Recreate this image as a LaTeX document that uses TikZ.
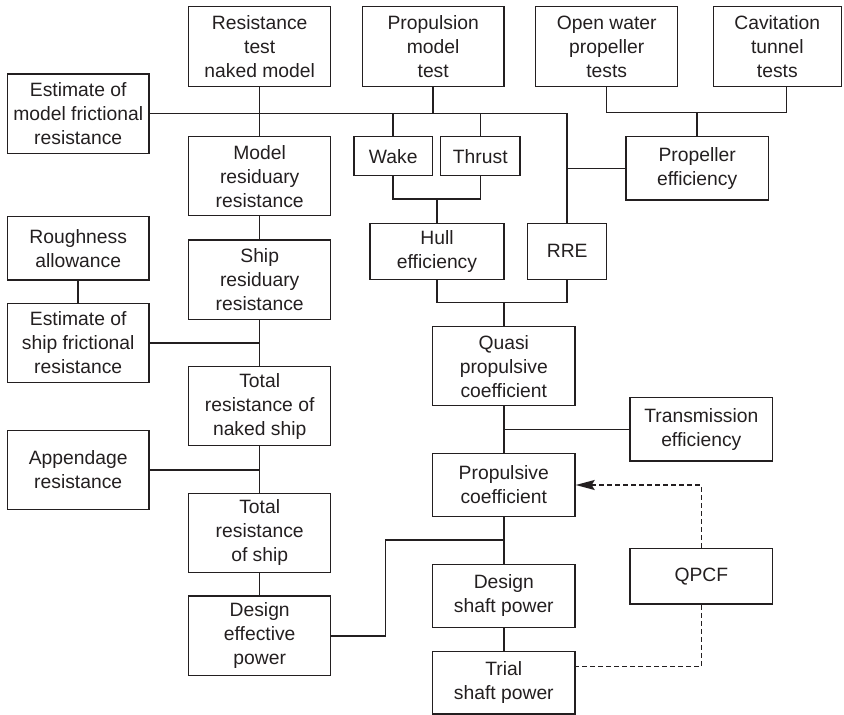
\documentclass[tikz,border=0pt]{standalone}
\usepackage{fontspec}
\setmainfont{Liberation Sans}
\usetikzlibrary{arrows.meta,calc}
\definecolor{ink}{HTML}{231F20}
\begin{document}
\begin{tikzpicture}[x=1pt,y=-1pt,
  box/.style={draw=ink, text=ink, line width=1.5pt, align=center, inner sep=0pt,
    font=\fontsize{19.3}{24}\selectfont},
  conn/.style={draw=ink, line width=1.5pt},
  dconn/.style={draw=ink, line width=1.5pt, dash pattern=on 5pt off 3pt}]
\useasboundingbox (0,0) rectangle (844,715);
% boxes
\node[box, minimum width=142pt, minimum height=80pt] (rt) at (259.7,46.7) {Resistance\\test\\naked model};
\node[box, minimum width=141.7pt, minimum height=80pt] (pm) at (433.2,46.7) {Propulsion\\model\\test};
\node[box, minimum width=142pt, minimum height=80pt] (ow) at (606.7,46.7) {Open water\\propeller\\tests};
\node[box, minimum width=128pt, minimum height=80pt] (ct) at (777.3,46.7) {Cavitation\\tunnel\\tests};
\node[box, minimum width=141.7pt, minimum height=79.3pt] (mf) at (78.2,113.7) {Estimate of\\model frictional\\resistance};
\node[box, minimum width=142pt, minimum height=79pt] (mr) at (259.7,176.2) {Model\\residuary\\resistance};
\node[box, minimum width=78.3pt, minimum height=39pt] (wk) at (393.2,156.2) {Wake};
\node[box, minimum width=79.3pt, minimum height=39pt] (th) at (480.3,156.2) {Thrust};
\node[box, minimum width=142.3pt, minimum height=63.3pt] (pe) at (697.2,168.3) {Propeller\\efficiency};
\node[box, minimum width=141.7pt, minimum height=63.3pt] (ra) at (78.2,248.3) {Roughness\\allowance};
\node[box, minimum width=142pt, minimum height=79.3pt] (sr) at (259.7,279.7) {Ship\\residuary\\resistance};
\node[box, minimum width=134pt, minimum height=56pt] (he) at (437,251.3) {Hull\\efficiency};
\node[box, minimum width=79pt, minimum height=56pt] (rre) at (567.2,251.3) {RRE};
\node[box, minimum width=141.7pt, minimum height=79.4pt] (sf) at (78.2,343) {Estimate of\\ship frictional\\resistance};
\node[box, minimum width=142.3pt, minimum height=79pt] (qp) at (503.8,366.2) {Quasi\\propulsive\\coefficient};
\node[box, minimum width=142pt, minimum height=79pt] (tn) at (259.7,406.2) {Total\\resistance of\\naked ship};
\node[box, minimum width=142.7pt, minimum height=63.3pt] (te) at (701.3,429.3) {Transmission\\efficiency};
\node[box, minimum width=141.7pt, minimum height=78.6pt] (ap) at (78.2,470) {Appendage\\resistance};
\node[box, minimum width=142.3pt, minimum height=63.4pt] (pc) at (503.8,485) {Propulsive\\coefficient};
\node[box, minimum width=142pt, minimum height=79pt] (ts) at (259.7,532.8) {Total\\resistance\\of ship};
\node[box, minimum width=142.7pt, minimum height=55.7pt] (qpcf) at (701.3,576.2) {QPCF};
\node[box, minimum width=142.3pt, minimum height=63pt] (ds) at (503.8,595.8) {Design\\shaft power};
\node[box, minimum width=142pt, minimum height=79.7pt] (de) at (259.7,635.8) {Design\\effective\\power};
\node[box, minimum width=142.3pt, minimum height=62.5pt] (tp) at (503.8,682.5) {Trial\\shaft power};
% junction coordinates
\coordinate (jwt) at (437,199);
\coordinate (jow) at (697.2,112.3);
\coordinate (jqp) at (503.8,302.3);
\coordinate (jde) at (385.3,540);
\coordinate (jtp) at (701.3,666.7);
% connectors
\draw[conn] (mf.east) -- (mf.east -| rre.north) -- (rre.north);
\draw[conn] (rt.south) -- (mr.north);
\draw[conn] (pm.south) -- (pm.south |- mf.east);
\draw[conn] (wk.north) -- (wk.north |- mf.east);
\draw[conn] (th.north) -- (th.north |- mf.east);
\draw[conn] (wk.south) |- (jwt) -| (th.south);
\draw[conn] (jwt) -- (he.north);
\draw[conn] (ow.south) |- (jow) -| ($(ct.south)+(9.4,0)$);
\draw[conn] (jow) -- (pe.north);
\draw[conn] (pe.west) -- (pe.west -| rre.north);
\draw[conn] (he.south) |- (jqp) -| (rre.south);
\draw[conn] (jqp) -- (qp.north);
\draw[conn] (mr.south) -- (sr.north);
\draw[conn] (ra.south) -- (sf.north);
\draw[conn] (sf.east) -- (sf.east -| sr.south);
\draw[conn] (sr.south) -- (tn.north);
\draw[conn] (ap.east) -- (ap.east -| tn.south);
\draw[conn] (tn.south) -- (ts.north);
\draw[conn] (ts.south) -- (de.north);
\draw[conn] (qp.south) -- (pc.north);
\draw[conn] (te.west) -- (te.west -| qp.south);
\draw[conn] (pc.south) -- (ds.north);
\draw[conn] (jde -| pc.south) -- (jde) |- (de.east);
\draw[conn] (ds.south) -- (tp.north);
\draw[dconn, -{Stealth[length=19pt,width=10pt,inset=3pt]}] (qpcf.north) |- (pc.east);
\draw[dconn] (qpcf.south) -- (jtp) -- (jtp -| tp.east);
\end{tikzpicture}
\end{document}
